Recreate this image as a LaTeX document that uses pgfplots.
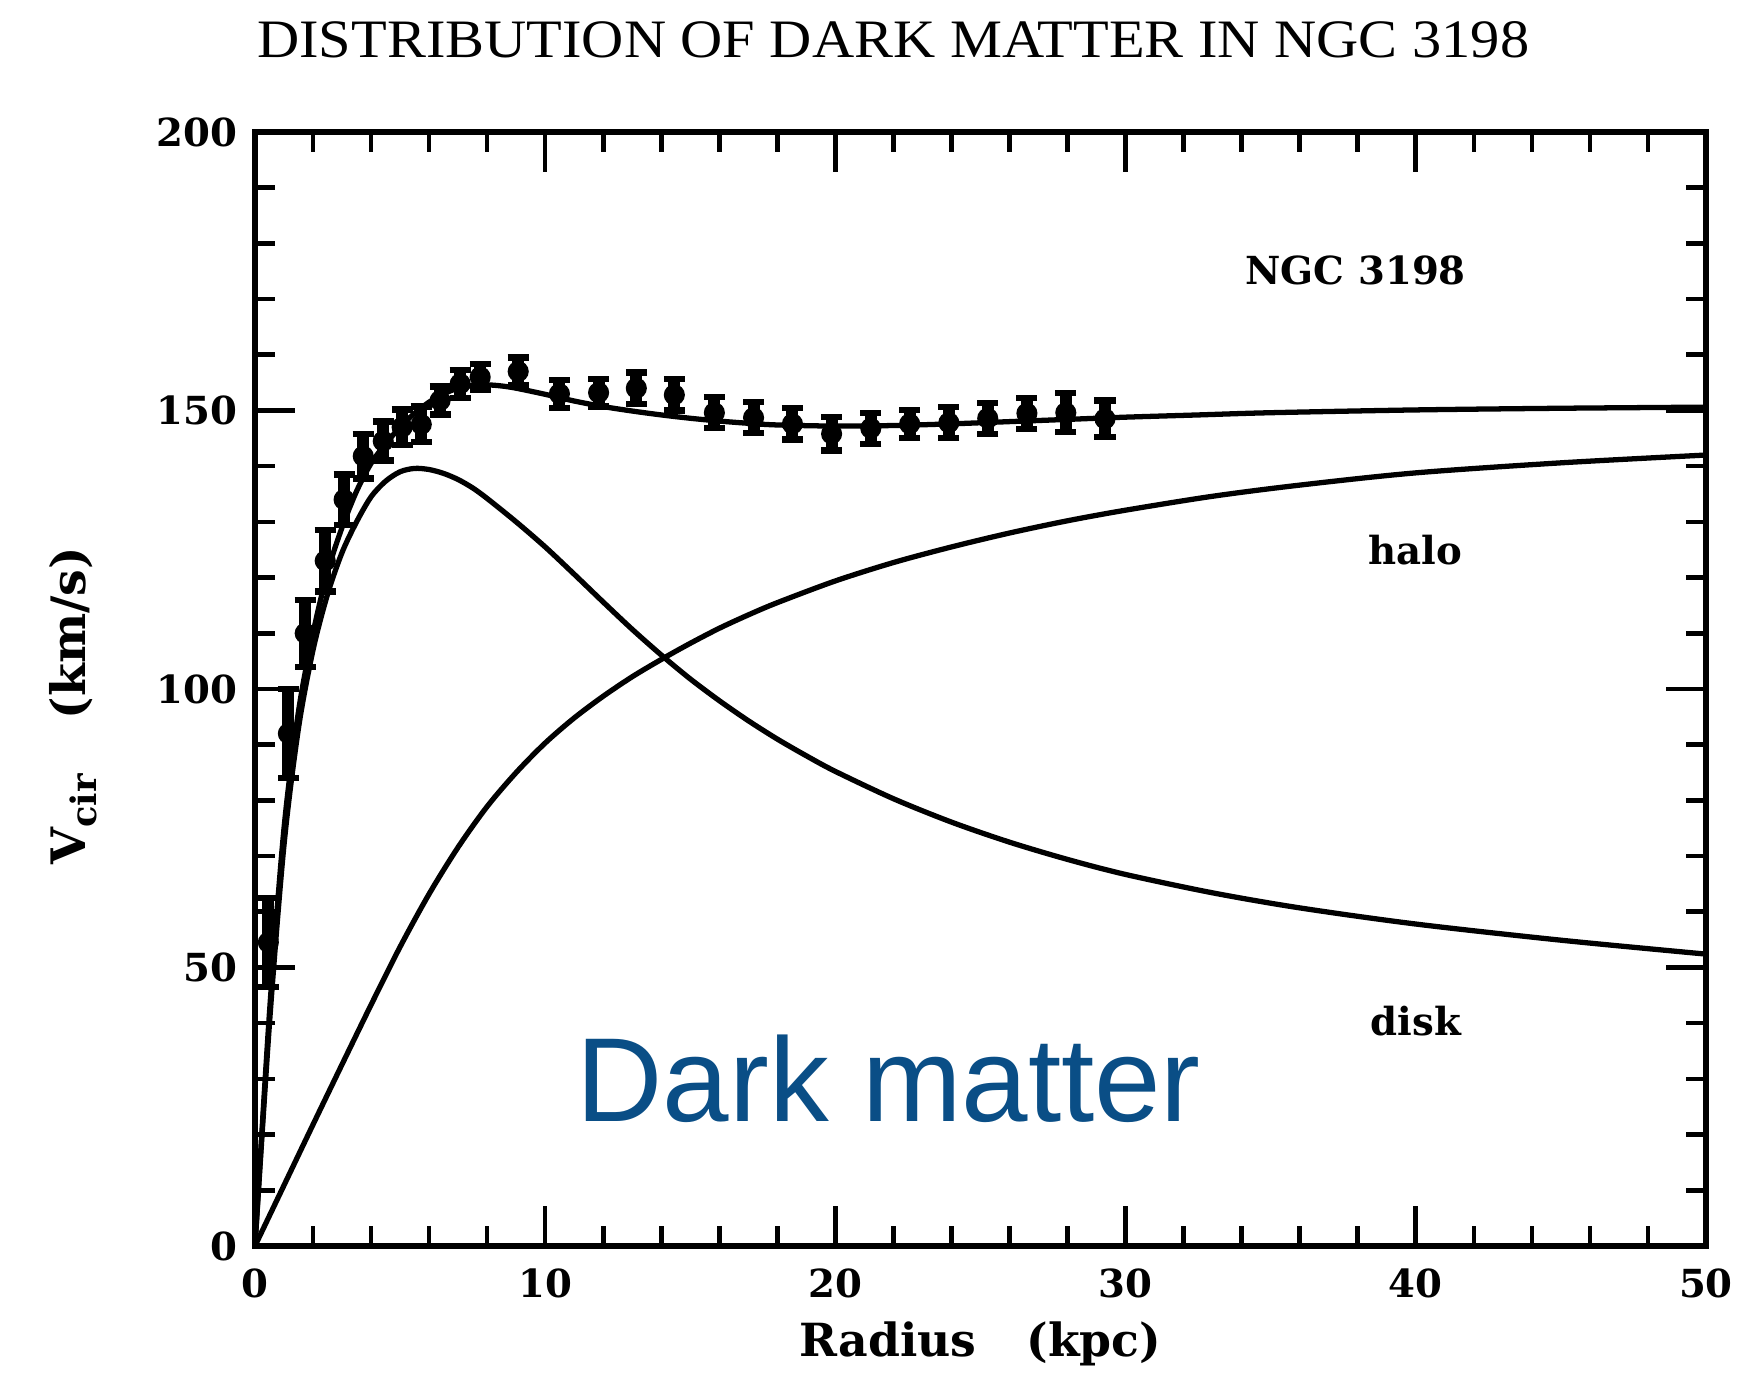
\documentclass[border=0pt]{standalone}
\usepackage{fontspec}
\setmainfont{DejaVu Serif}
\newfontfamily\titlefont{Liberation Serif}
\newfontfamily\overlayfont{Liberation Sans}
\usepackage{pgfplots}
\usepackage{pgfplotstable}
\pgfplotsset{compat=1.18}
\definecolor{dmblue}{RGB}{10,78,134}

% observed rotation velocities with errors
\pgfplotstableread{
x     y      e
0.46  54.5   8.0
1.15  92.0   8.0
1.73  110.0  6.0
2.42  123.0  5.5
3.07  134.0  4.5
3.73  141.8  4.0
4.42  144.5  3.5
5.07  147.0  3.2
5.73  147.5  3.2
6.38  151.8  2.5
7.07  154.8  2.5
7.76  156.0  2.3
9.07  157.0  2.5
10.49 153.0  2.5
11.84 153.2  2.5
13.14 154.0  2.8
14.45 152.8  2.8
15.83 149.6  2.8
17.18 148.7  2.8
18.52 147.6  2.8
19.87 145.8  3.0
21.22 146.8  2.8
22.56 147.6  2.5
23.91 147.8  2.8
25.25 148.6  2.8
26.60 149.5  2.8
27.94 149.6  3.5
29.29 148.5  3.3
}\obsdata

% total model curve (disk + halo)
\pgfplotstableread{
x    y
0    0
0.5  42
1.0  75
1.5  96
2.0  110
2.5  121
3.0  129
3.5  135.5
4.0  140.5
4.5  144
5.0  147
5.5  149.5
6.0  151.5
6.5  153
7.0  154
7.5  154.5
8.0  154.6
8.5  154.4
9.0  154
10.0 152.9
11.0 151.7
12.0 150.7
13.0 149.9
14.0 149.2
15.0 148.6
16.0 148.1
17.0 147.7
18.0 147.4
20.0 147.2
22.0 147.3
24.0 147.6
26.0 148
28.0 148.4
30.0 148.8
32.5 149.2
35.0 149.6
40.0 150.1
45.0 150.4
50.0 150.6
}\totaldata

% disk contribution
\pgfplotstableread{
x    y
0    0
0.5  40
1.0  72
1.5  93
2.0  107
2.5  117
3.0  124.5
3.5  130
4.0  134.5
4.5  137.3
5.0  139
5.5  139.6
6.0  139.4
6.5  138.7
7.0  137.6
7.5  136.1
8.0  134.2
9.0  130
10.0 125.5
11.0 120.6
12.0 115.6
13.0 110.7
14.0 106.1
15.0 101.8
16.0 97.9
17.0 94.3
18.0 91.0
19.0 88.0
20.0 85.2
22.0 80.3
24.0 76.1
26.0 72.5
28.0 69.4
30.0 66.7
33.0 63.4
36.0 60.7
40.0 57.8
45.0 54.9
50.0 52.4
}\diskdata

% halo contribution
\pgfplotstableread{
x    y
0    0
1    10.9
2    21.8
3    32.6
4    43.3
5    53.7
6    63.2
7    71.6
8    78.9
9    85.0
10   90.3
11   94.8
12   98.7
13   102.2
14   105.3
15   108.2
16   110.9
17   113.3
18   115.5
20   119.4
22   122.7
24   125.5
26   128.0
28   130.2
30   132.1
33   134.6
36   136.6
40   138.8
45   140.6
50   142.0
}\halodata

\begin{document}
\begin{tikzpicture}
\useasboundingbox (-2.55,-1.29) rectangle (14.93,12.46);
\begin{axis}[
  at={(0,0)}, anchor=south west,
  scale only axis,
  width=14.51cm, height=11.14cm,
  xmin=0, xmax=50, ymin=0, ymax=200,
  xtick={0,10,...,50}, ytick={0,50,...,200},
  minor x tick num=4, minor y tick num=4,
  tick align=inside,
  major tick length=0.4cm, minor tick length=0.2cm,
  every tick/.style={black, line width=1.3pt},
  axis line style={line width=1.6pt},
  xtick pos=both, ytick pos=both,
  /pgf/number format/assume math mode=true,
  ticklabel style={font=\bfseries\fontsize{11}{11}\selectfont},
  xticklabel style={yshift=-0.1cm},
  yticklabel style={xshift=-0.05cm},
  clip=false,
]
  \addplot[black, line width=1.5pt, smooth] table[x=x, y=y] {\totaldata};
  \addplot[black, line width=1.5pt, smooth] table[x=x, y=y] {\diskdata};
  \addplot[black, line width=1.5pt, smooth] table[x=x, y=y] {\halodata};
  \addplot[black, only marks, mark=*, mark size=2.8pt,
    error bars/.cd, y dir=both, y explicit,
    error bar style={line width=3.4pt},
    error mark options={rotate=90, line width=1.8pt, mark size=3pt}]
    table[x=x, y=y, y error=e] {\obsdata};

  \node[font=\bfseries\fontsize{11}{11}\selectfont] at (axis cs:37.93,175.2) {NGC 3198};
  \node[font=\bfseries\fontsize{11}{11}\selectfont] at (axis cs:39.98,124.9) {halo};
  \node[font=\bfseries\fontsize{11}{11}\selectfont] at (axis cs:40.0,40.4) {disk};
  \node[anchor=base, text=dmblue, font=\overlayfont\fontsize{34}{34}\selectfont]
    at (axis cs:21.84,22.4) {Dark matter};

  \node[anchor=base] at (rel axis cs:0.44,1.067)
    {\resizebox{12.72cm}{0.36cm}{\titlefont DISTRIBUTION OF DARK MATTER IN NGC 3198}};
  \node[font=\bfseries\fontsize{13}{13}\selectfont] at (rel axis cs:0.5,-0.088)
    {Radius\hspace{0.5cm}(kpc)};
  \node[rotate=90, font=\bfseries\fontsize{13.5}{13.5}\selectfont] at (rel axis cs:-0.125,0.485)
    {V\raisebox{-0.45ex}{\fontsize{10}{10}\selectfont cir}\hspace{0.55cm}(km/s)};
\end{axis}
\end{tikzpicture}
\end{document}
